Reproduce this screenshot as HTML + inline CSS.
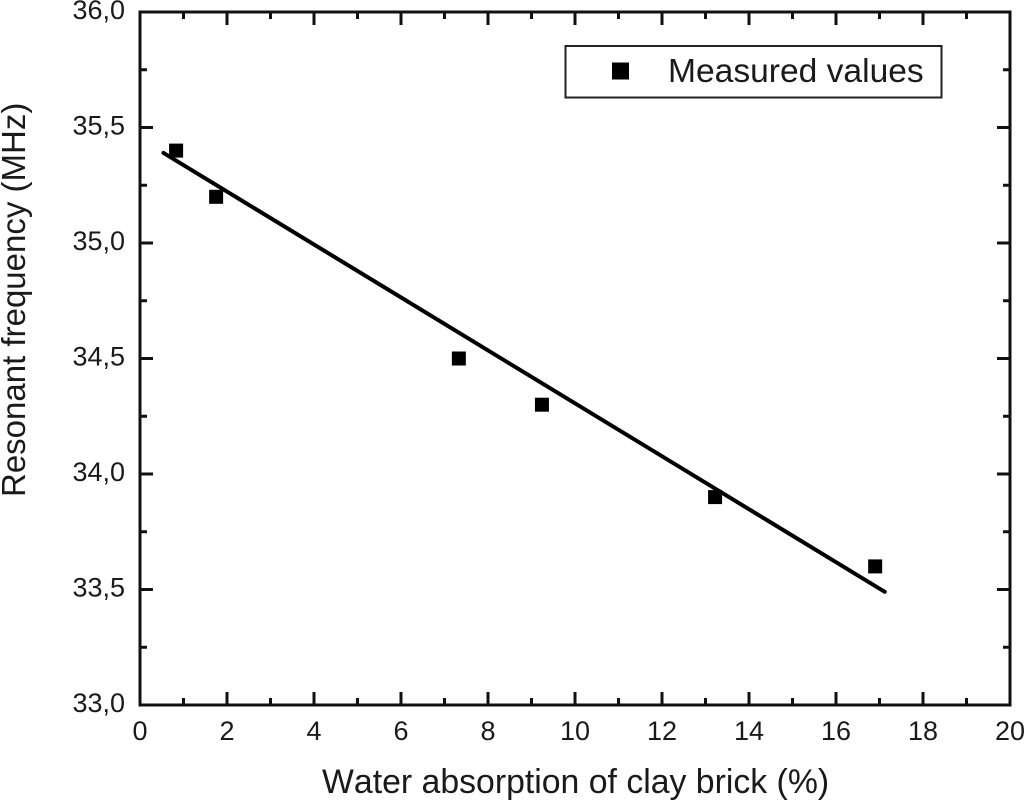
<!DOCTYPE html>
<html>
<head>
<meta charset="utf-8">
<title>Resonant frequency vs water absorption</title>
<style>
html,body{margin:0;padding:0;background:#fff;}
svg{display:block;}
text{font-family:"Liberation Sans",sans-serif;fill:#1a1a1a;font-kerning:none;}
</style>
</head>
<body>
<svg id="chart" width="1024" height="800" viewBox="0 0 1024 800" xmlns="http://www.w3.org/2000/svg">
  <g id="grid-ticks"></g>
  <rect x="140" y="12" width="870" height="693" fill="none" stroke="#111" stroke-width="3"></rect>
  <g id="labels"></g>
  <line id="fit" stroke="#000" stroke-width="4" stroke-linecap="round"></line>
  <g id="points"></g>
  <g>
    <rect x="565.5" y="46" width="376" height="51.500" fill="#fff" stroke="#222" stroke-width="2"></rect>
    <rect x="612" y="62.500" width="17" height="17" fill="#000"></rect>
    <text x="668" y="82" font-size="33.600">Measured values</text>
  </g>
  <text x="322" y="793" font-size="33.800">Water absorption of clay brick (%)</text>
  <text transform="translate(25,497) rotate(-90)" font-size="33">Resonant frequency (MHz)</text>
</svg>
<script>
var xValues = [0.83, 1.75, 7.33, 9.24, 13.22, 16.9];
var yValues = [35.4, 35.2, 34.5, 34.3, 33.9, 33.6];
var fitX = [0.54, 17.12];
var fitY = [35.39, 33.49];
var xTickLabels = ["0", "2", "4", "6", "8", "10", "12", "14", "16", "18", "20"];
var yTickLabels = ["33,0", "33,5", "34,0", "34,5", "35,0", "35,5", "36,0"];

var NS = "http://www.w3.org/2000/svg";
function sx(v) { return 140 + (v - 0) / 20 * 870; }
function sy(v) { return 705 - (v - 33) / 3 * 693; }
function parseLabel(s) { return parseFloat(s.replace(",", ".")); }

var ticksG = document.getElementById("grid-ticks");
var labelsG = document.getElementById("labels");

function tick(x1, y1, x2, y2, name) {
  var l = document.createElementNS(NS, "line");
  l.setAttribute("x1", x1);
  l.setAttribute("y1", y1);
  l.setAttribute("x2", x2);
  l.setAttribute("y2", y2);
  l.setAttribute("stroke", "#111");
  l.setAttribute("stroke-width", "3");
  
  
  ticksG.appendChild(l);
}

xTickLabels.forEach(function (lab, i) {
  var v = parseLabel(lab);
  var x = sx(v);
  tick(x, 705, x, 692, "x-major-tick");
  tick(x, 12, x, 25, "x-major-tick-top");
  if (i < xTickLabels.length - 1) {
    var mx = sx(v + (parseLabel(xTickLabels[i + 1]) - v) / 2);
    tick(mx, 705, mx, 698, "x-minor-tick");
    tick(mx, 12, mx, 19, "x-minor-tick-top");
  }
  var t = document.createElementNS(NS, "text");
  t.setAttribute("x", x);
  t.setAttribute("y", 740);
  t.setAttribute("font-size", "27");
  t.setAttribute("text-anchor", "middle");
  
  
  t.textContent = lab;
  labelsG.appendChild(t);
});

yTickLabels.forEach(function (lab, i) {
  var v = parseLabel(lab);
  var y = sy(v);
  tick(140, y, 153, y, "y-major-tick");
  tick(1010, y, 997, y, "y-major-tick-right");
  if (i < yTickLabels.length - 1) {
    var my = sy(v + (parseLabel(yTickLabels[i + 1]) - v) / 2);
    tick(140, my, 147, my, "y-minor-tick");
    tick(1010, my, 1003, my, "y-minor-tick-right");
  }
  var t = document.createElementNS(NS, "text");
  t.setAttribute("x", 125);
  t.setAttribute("y", y + 7);
  t.setAttribute("font-size", "27");
  t.setAttribute("text-anchor", "end");
  
  
  t.textContent = lab;
  labelsG.appendChild(t);
});

var fit = document.getElementById("fit");
fit.setAttribute("x1", sx(fitX[0]));
fit.setAttribute("y1", sy(fitY[0]));
fit.setAttribute("x2", sx(fitX[1]));
fit.setAttribute("y2", sy(fitY[1]));

var pointsG = document.getElementById("points");
xValues.forEach(function (xv, i) {
  var r = document.createElementNS(NS, "rect");
  r.setAttribute("x", sx(xv) - 7);
  r.setAttribute("y", sy(yValues[i]) - 7);
  r.setAttribute("width", 14);
  r.setAttribute("height", 14);
  r.setAttribute("fill", "#000");
  
  
  pointsG.appendChild(r);
});
</script>
</body>
</html>
